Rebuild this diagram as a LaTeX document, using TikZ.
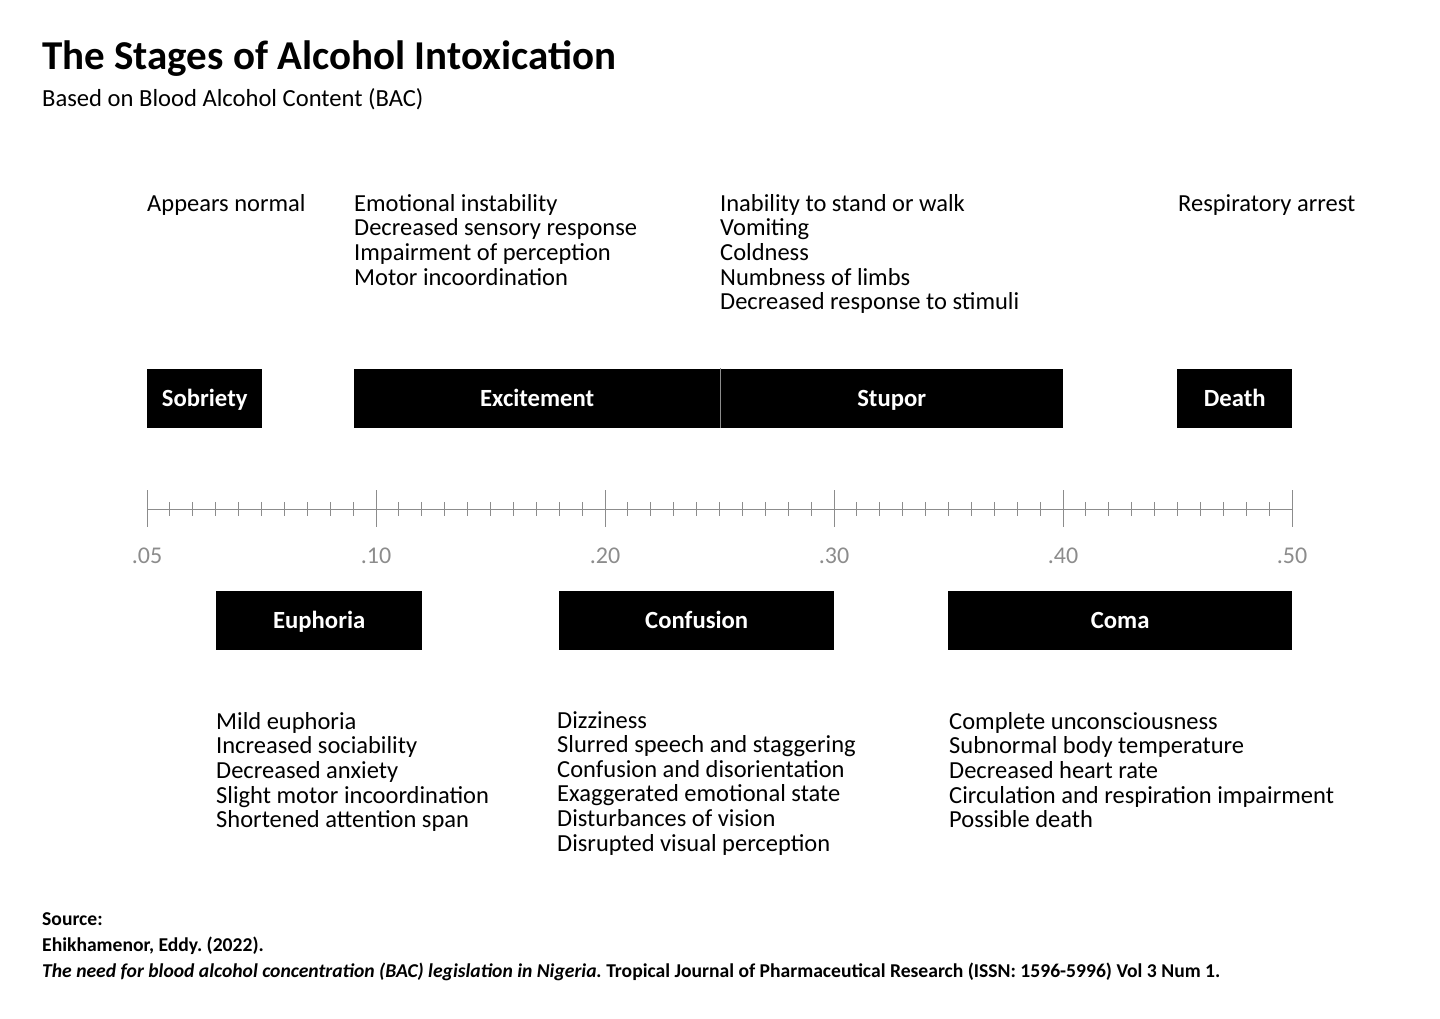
\documentclass[tikz,border=0pt]{standalone}
\usepackage{fontspec}
\setmainfont{Carlito}
\frenchspacing
\definecolor{axisgray}{HTML}{8C8C8C}
\tikzset{
  stagebox/.style={fill=black, text=white, font=\fontsize{24.7}{25}\selectfont\bfseries,
    minimum height=59pt, inner sep=0pt, anchor=west, text height=16pt, text depth=0pt},
  symptoms/.style={anchor=north west, align=left, inner sep=0pt,
    font=\fontsize{24.5}{24.6}\selectfont},
  ticklabel/.style={text=axisgray, font=\fontsize{24}{25}\selectfont}
}
\begin{document}
\begin{tikzpicture}[x=1pt,y=-1pt]
  \useasboundingbox (0,0) rectangle (1440,1018);
  % title and subtitle
  \node[anchor=base west, inner sep=0pt, font=\fontsize{41}{44}\selectfont\bfseries] (title) at (42,69) {The Stages of Alcohol Intoxication};
  \node[anchor=base west, inner sep=0pt, font=\fontsize{24.6}{26}\selectfont] (subtitle) at (42,106) {Based on Blood Alcohol Content (BAC)};

  % stages above the axis
  \node[stagebox, minimum width=115pt] (sobriety) at (147,398) {Sobriety};
  \node[stagebox, minimum width=366pt] (excitement) at (354,398) {Excitement};
  \node[stagebox, minimum width=343pt] (stupor) at (720,398) {Stupor};
  \node[stagebox, minimum width=115pt] (death) at (1177,398) {Death};
  \draw[axisgray, line width=1pt] (stupor.north west) -- (stupor.south west); % divider

  % stages below the axis
  \node[stagebox, minimum width=206pt] (euphoria) at (216,620) {Euphoria};
  \node[stagebox, minimum width=275pt] (confusion) at (559,620) {Confusion};
  \node[stagebox, minimum width=344pt] (coma) at (948,620) {Coma};

  % axis
  \coordinate (axisstart) at (147,509);
  \coordinate (axisend) at (1292,509);
  \draw[axisgray, line width=1pt] (axisstart) -- (axisend);
  \foreach \k in {0,...,50} % minor ticks
    \draw[axisgray, line width=1pt] ({147+22.9*\k},502) -- +(0,14);
  \foreach \i/\lab in {0/.05,1/.10,2/.20,3/.30,4/.40,5/.50} % major ticks and labels
    \draw[axisgray, line width=1pt] ({147+229*\i},490) -- +(0,37)
      node[ticklabel, below=17pt] (tick\i) {\lab};

  % symptoms
  \node[symptoms] (sobrietytext) at (147,194) {Appears normal};
  \node[symptoms] (excitementtext) at (354,194) {Emotional instability\\Decreased sensory response\\Impairment of perception\\Motor incoordination};
  \node[symptoms] (stuportext) at (720,194) {Inability to stand or walk\\Vomiting\\Coldness\\Numbness of limbs\\Decreased response to stimuli};
  \node[symptoms] (deathtext) at (1178,194) {Respiratory arrest};
  \node[symptoms] (euphoriatext) at (216,712) {Mild euphoria\\Increased sociability\\Decreased anxiety\\Slight motor incoordination\\Shortened attention span};
  \node[symptoms] (confusiontext) at (557,711) {Dizziness\\Slurred speech and staggering\\Confusion and disorientation\\Exaggerated emotional state\\Disturbances of vision\\Disrupted visual perception};
  \node[symptoms] (comatext) at (949,712) {Complete unconsciousness\\Subnormal body temperature\\Decreased heart rate\\Circulation and respiration impairment\\Possible death};

  % source
  \node[anchor=north west, align=left, inner sep=0pt, font=\fontsize{19.6}{26}\selectfont\bfseries] (source) at (42,912)
    {Source:\\Ehikhamenor, Eddy. (2022).\\\textit{The need for blood alcohol concentration (BAC) legislation in Nigeria.} Tropical Journal of Pharmaceutical Research (ISSN: 1596-5996) Vol 3 Num 1.};
\end{tikzpicture}
\end{document}
